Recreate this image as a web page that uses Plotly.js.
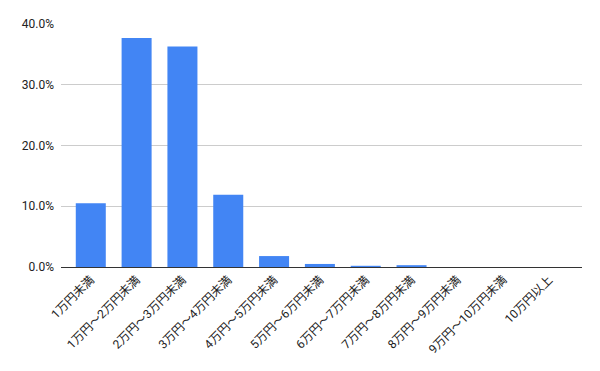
<!DOCTYPE html>
<html><head><meta charset="utf-8">
<script src="https://cdn.plot.ly/plotly-3.0.1.min.js"></script>
<style>html,body{margin:0;padding:0;background:#fff}#c{width:600px;height:371px}</style>
</head><body><div id="c"></div>
<script>
const categories = ["1万円未満","1万円～2万円未満","2万円～3万円未満","3万円～4万円未満","4万円～5万円未満","5万円～6万円未満","6万円～7万円未満","7万円～8万円未満","8万円～9万円未満","9万円～10万円未満","10万円以上"];
const values = [0.105, 0.377, 0.363, 0.119, 0.018, 0.005, 0.002, 0.003, 0, 0, 0];
const tickVals = [0, 0.1, 0.2, 0.3, 0.4];

Plotly.newPlot('c', [{
  type: 'bar', x: categories, y: values,
  marker: {color: '#4285f4'},
  hoverinfo: 'none'
}], {
  width: 600, height: 371,
  margin: {l: 61, r: 18, t: 24, b: 104},
  paper_bgcolor: '#fff', plot_bgcolor: '#fff',
  bargap: 0.345,
  font: {family: 'Roboto, "Noto Sans CJK JP", sans-serif', size: 12, color: '#222'},
  xaxis: {range: [-0.65, 10.72], tickangle: -45, showgrid: false, showline: true, linecolor: '#333', linewidth: 1, ticks: '', tickfont: {size: 12, family: 'Roboto, "Noto Sans CJK JP", sans-serif'}},
  yaxis: {range: [0, 0.4], tickvals: tickVals, tickformat: '.1%', gridcolor: '#ccc', zeroline: false, showline: false, ticks: '', tickfont: {size: 12}, ticklabelstandoff: 6},
  showlegend: false
}, {displayModeBar: false, staticPlot: true});
</script></body></html>
